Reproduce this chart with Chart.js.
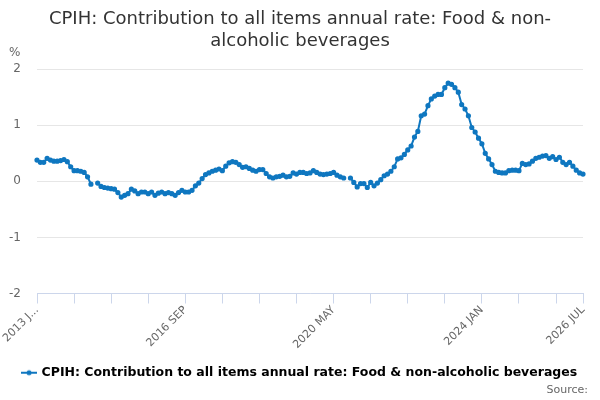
<!DOCTYPE html>
<html>
<head>
<meta charset="utf-8">
<script src="https://cdn.jsdelivr.net/npm/chart.js@4/dist/chart.umd.min.js"></script>
<style>
  html, body { margin: 0; padding: 0; background: #fff; }
  #wrap { width: 600px; height: 400px; }
</style>
</head>
<body>
<div id="wrap"><canvas id="chart"></canvas></div>
<script>
// monthly series, 2013 JAN .. 2026 JUL
const startYear = 2013;
const monthNames = ["JAN", "FEB", "MAR", "APR", "MAY", "JUN", "JUL", "AUG", "SEP", "OCT", "NOV", "DEC"];
const seriesName = "CPIH: Contribution to all items annual rate: Food & non-alcoholic beverages";

const values = [
  0.38, 0.34, 0.34, 0.41, 0.38, 0.36, 0.36, 0.37, 0.39, 0.35, 0.26, 0.19,
  0.19, 0.18, 0.16, 0.08, -0.05, null, -0.03, -0.09, -0.11, -0.12, -0.13, -0.14,
  -0.20, -0.28, -0.25, -0.22, -0.14, -0.17, -0.22, -0.19, -0.19, -0.22, -0.19, -0.25,
  -0.21, -0.19, -0.22, -0.20, -0.22, -0.25, -0.20, -0.16, -0.19, -0.19, -0.16, -0.08,
  -0.03, 0.05, 0.12, 0.15, 0.18, 0.20, 0.22, 0.19, 0.27, 0.33, 0.35, 0.34,
  0.30, 0.25, 0.26, 0.23, 0.20, 0.18, 0.21, 0.21, 0.14, 0.08, 0.06, 0.08,
  0.09, 0.11, 0.08, 0.09, 0.15, 0.13, 0.16, 0.16, 0.14, 0.15, 0.19, 0.16,
  0.13, 0.12, 0.13, 0.14, 0.16, 0.11, 0.08, 0.06, null, 0.06, -0.02, -0.10,
  -0.04, -0.04, -0.11, -0.02, -0.08, -0.03, 0.03, 0.10, 0.13, 0.18, 0.26, 0.40,
  0.42, 0.48, 0.56, 0.63, 0.79, 0.89, 1.17, 1.20, 1.35, 1.47, 1.52, 1.55,
  1.55, 1.67, 1.75, 1.73, 1.67, 1.59, 1.37, 1.29, 1.17, 0.96, 0.88, 0.77,
  0.67, 0.50, 0.40, 0.30, 0.18, 0.16, 0.15, 0.15, 0.19, 0.20, 0.20, 0.19,
  0.32, 0.30, 0.31, 0.36, 0.41, 0.43, 0.45, 0.46, 0.41, 0.44, 0.39, 0.43,
  0.34, 0.30, 0.34, 0.27, 0.20, 0.15, 0.13
];

const labels = values.map((v, i) => (startYear + Math.floor(i / 12)) + " " + monthNames[i % 12]);
const last = labels.length - 1;

const BLUE = "#0f77c0";
const FONT = "'DejaVu Sans', sans-serif";

// legend marker: short line with a dot
const marker = document.createElement("canvas");
marker.width = 16; marker.height = 8;
(function() {
  const c = marker.getContext("2d");
  c.strokeStyle = BLUE; c.lineWidth = 2;
  c.beginPath(); c.moveTo(0, 4); c.lineTo(16, 4); c.stroke();
  c.fillStyle = BLUE;
  c.beginPath(); c.arc(8, 4, 2.5, 0, Math.PI * 2); c.fill();
})();

// "%" above the y axis and "Source:" in the bottom right corner
const extraText = {
  id: "extraText",
  afterDraw(chart) {
    const c = chart.ctx;
    c.save();
    c.fillStyle = "#666";
    c.textBaseline = "middle";
    c.font = "12px " + FONT;
    c.textAlign = "left";
    c.fillText("%", 9, 53);
    c.font = "11px " + FONT;
    c.textAlign = "right";
    c.fillText("Source:", 588, 390);
    c.restore();
  }
};

new Chart(document.getElementById("chart"), {
  type: "line",
  data: {
    labels: labels,
    datasets: [{
      label: seriesName,
      data: values,
      borderColor: BLUE,
      backgroundColor: BLUE,
      borderWidth: 2,
      pointRadius: 1.6,
      pointHoverRadius: 3,
      tension: 0,
      spanGaps: false
    }]
  },
  options: {
    responsive: true,
    maintainAspectRatio: false,
    animation: false,
    layout: { padding: { left: 0, right: 0, top: 0, bottom: 11 } },
    plugins: {
      title: {
        display: true,
        text: ["CPIH: Contribution to all items annual rate: Food & non-", "alcoholic beverages"],
        color: "#333",
        font: { family: FONT, size: 18, weight: "normal", lineHeight: 1.2 },
        padding: { top: 9, bottom: 17 }
      },
      legend: {
        position: "bottom",
        labels: {
          color: "#333",
          font: { family: FONT, size: 12.5, weight: "bold" },
          usePointStyle: true,
          padding: 6,
          generateLabels(chart) {
            return chart.data.datasets.map((ds, i) => ({
              text: ds.label,
              pointStyle: marker,
              fillStyle: BLUE,
              strokeStyle: BLUE,
              lineWidth: 0,
              hidden: false,
              datasetIndex: i
            }));
          }
        }
      },
      tooltip: { enabled: false }
    },
    scales: {
      x: {
        type: "category",
        offset: false,
        afterBuildTicks(scale) {
          scale.ticks = scale.ticks.filter(t => t.value % 11 === 0 || t.value === last);
        },
        afterFit(scale) { scale.height = 67; },
        border: { display: true, color: "#ccd6eb", width: 1 },
        grid: {
          display: true,
          drawOnChartArea: false,
          drawTicks: true,
          tickLength: 10,
          color: "#ccd6eb"
        },
        ticks: {
          autoSkip: false,
          maxRotation: 45,
          minRotation: 45,
          color: "#666",
          padding: 0,
          font: { family: FONT, size: 11 },
          callback(value) {
            if (value === 0) return labels[0].slice(0, 6) + "...";
            if (value % 44 === 0 || value === last) return labels[value];
            return "";
          }
        }
      },
      y: {
        min: -2,
        max: 2,
        afterFit(scale) { scale.width = 37; },
        border: { display: false },
        grid: { color: "#e6e6e6", drawTicks: false },
        ticks: {
          stepSize: 1,
          color: "#666",
          padding: 16,
          font: { family: FONT, size: 12 }
        }
      },
      // empty right margin so title and legend stay centred on the page
      yRight: {
        position: "right",
        display: true,
        afterFit(scale) { scale.width = 17; },
        border: { display: false },
        grid: { display: false },
        ticks: { display: false }
      }
    }
  },
  plugins: [extraText]
});
</script>
</body>
</html>
